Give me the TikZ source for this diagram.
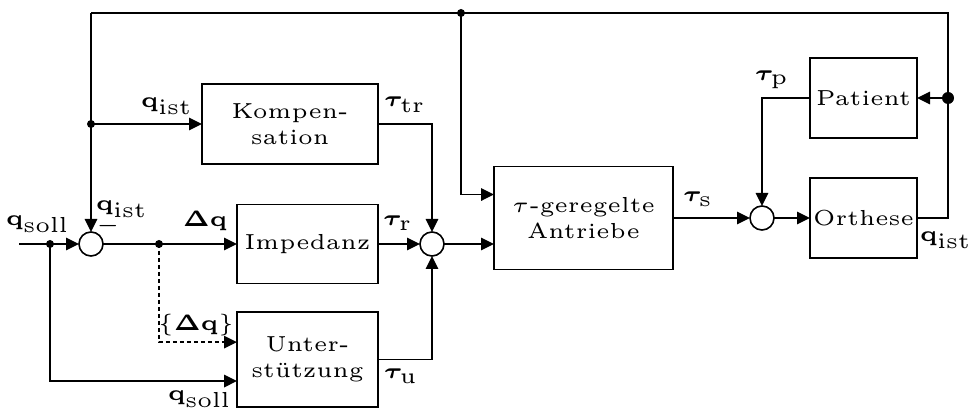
\documentclass[tikz,border=0pt]{standalone}
\usepackage{bm}
\usetikzlibrary{arrows.meta}
\newlength\px
\setlength\px{0.23pt}
\begin{document}
\begin{tikzpicture}[x=\px,y=-\px,
  every node/.style={font=\tiny},
  blk/.style={draw,inner sep=0pt,outer sep=0pt,align=center},
  sumc/.style={draw,circle,minimum size=24\px,inner sep=0pt,outer sep=0pt},
  dotp/.style={circle,fill,inner sep=0pt,outer sep=0pt,minimum size=8\px},
  bigdot/.style={circle,fill,inner sep=0pt,outer sep=0pt,minimum size=12\px},
  lbl/.style={inner sep=0pt},
  sig/.style={-{Triangle[length=2.99pt,width=2.88pt]}},
  dsh/.style={dash pattern=on 0.92pt off 0.69pt},
  line width=1.6\px]
\useasboundingbox (0,0) rectangle (970,414);
% blocks
\node[blk,minimum width=176\px,minimum height=80\px] (komp) at (290,124) {Kompen-\\sation};
\node[blk,minimum width=141\px,minimum height=79\px] (imp) at (307.5,244) {Impedanz};
\node[blk,minimum width=141\px,minimum height=95\px] (unt) at (307.5,359.5) {Unter-\\stützung};
\node[blk,minimum width=179\px,minimum height=103\px] (tau) at (583.5,218) {$\tau$-geregelte\\Antriebe};
\node[blk,minimum width=107\px,minimum height=80\px] (pat) at (863.5,98) {Patient};
\node[blk,minimum width=107\px,minimum height=80\px] (ort) at (863.5,218) {Orthese};
% summing points
\node[sumc] (s1) at (91,244) {};
\node[sumc] (s2) at (432,244) {};
\node[sumc] (s3) at (762,218) {};
% branch points
\node[dotp] (d1) at (50,244) {};
\node[dotp] (d2) at (159,244) {};
\node[dotp] (d3) at (91,124) {};
\node[dotp] (d4) at (461,13) {};
\node[bigdot] (d5) at (948,98) {};
\coordinate (in) at (19,244);
\coordinate (tl) at (91,13);
\coordinate (tr) at (948,13);
% connectors
\draw[sig] (in) -- (s1);
\draw[sig] (s1) -- (imp);
\draw[sig] (tl) -- (s1);
\draw[sig] (d3.center) -- (komp.west);
\draw (tl) -- (tr) |- (ort.east);
\draw[sig] (d5.center) -- (pat.east);
\draw[sig] (d4.center) |- ([yshift=5.4pt]tau.west);
\draw[sig] (komp.east) -| (s2);
\draw[sig] (imp) -- (s2);
\draw[sig] (unt.east) -| (s2);
\draw[sig] (s2) -- (s2 -| tau.west);
\draw[sig] (tau) -- (s3);
\draw[sig] (s3) -- (ort);
\draw[sig] (pat.west) -| (s3);
\draw[sig,dsh] (d2.center) |- ([yshift=4.0pt]unt.west);
\draw[sig] (d1.center) |- ([yshift=-4.95pt]unt.west);
% labels
\node[lbl] (lqs1) at (38,224) {$\mathbf{q}_{\mathrm{soll}}$};
\node[lbl] (lqi1) at (122,209) {$\mathbf{q}_{\mathrm{ist}}$};
\node[lbl] (lminus) at (108,226) {$-$};
\node[lbl] (ldq) at (205,221) {$\mathbf{\Delta q}$};
\node[lbl] (lqi2) at (167,106) {$\mathbf{q}_{\mathrm{ist}}$};
\node[lbl] (lttr) at (405,105) {$\bm{\tau}_{\mathrm{tr}}$};
\node[lbl] (ltr) at (398,223) {$\bm{\tau}_{\mathrm{r}}$};
\node[lbl] (lts) at (698,199) {$\bm{\tau}_{\mathrm{s}}$};
\node[lbl] (ltp) at (772,80) {$\bm{\tau}_{\mathrm{p}}$};
\node[lbl] (lqi3) at (946,240) {$\mathbf{q}_{\mathrm{ist}}$};
\node[lbl] (ltu) at (401,376) {$\bm{\tau}_{\mathrm{u}}$};
\node[lbl] (lqs2) at (200,399) {$\mathbf{q}_{\mathrm{soll}}$};
\node[lbl] (ldq2) at (196,325) {$\{\mathbf{\Delta q}\}$};
\end{tikzpicture}
\end{document}
